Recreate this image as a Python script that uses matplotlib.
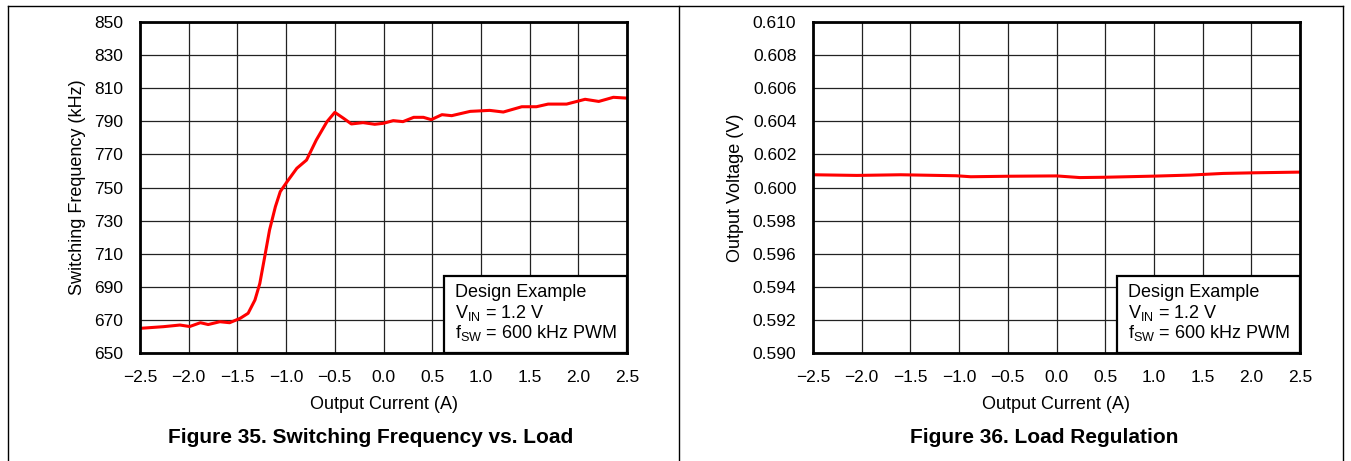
import matplotlib.pyplot as plt
from matplotlib.lines import Line2D
from matplotlib.patches import Rectangle

plt.rcParams['font.family'] = ['Liberation Sans', 'DejaVu Sans']
plt.rcParams['mathtext.fontset'] = 'custom'
plt.rcParams['mathtext.rm'] = 'Liberation Sans'

# --- data ---
freq_current = [-2.5, -2.26, -2.09, -1.99, -1.88, -1.80, -1.68, -1.58, -1.47, -1.39,
                -1.32, -1.27, -1.22, -1.17, -1.11, -1.06, -0.99, -0.89, -0.79, -0.69,
                -0.58, -0.50, -0.41, -0.33, -0.21, -0.09, 0.0, 0.10, 0.20, 0.31,
                0.41, 0.49, 0.60, 0.70, 0.89, 1.09, 1.23, 1.42, 1.57, 1.69,
                1.88, 2.07, 2.21, 2.36, 2.5]
freq_khz = [664.9, 665.9, 666.9, 666.0, 668.3, 667.2, 668.9, 668.3, 671.0, 674.0,
            682.0, 692.0, 708.0, 724.3, 738.4, 747.5, 753.5, 761.6, 766.6, 778.7,
            789.8, 795.4, 791.8, 788.4, 789.2, 788.2, 788.8, 790.4, 789.8, 792.4,
            792.4, 791.0, 794.0, 793.4, 796.0, 796.6, 795.6, 798.8, 798.8, 800.4,
            800.4, 803.3, 802.0, 804.5, 804.0]

vout_current = [-2.5, -2.05, -1.6, -1.03, -0.88, -0.5, 0.0, 0.24, 0.5, 1.02, 1.37, 1.71, 2.05, 2.5]
vout_v = [0.60077, 0.60073, 0.60077, 0.60071, 0.60065, 0.60068, 0.6007, 0.6006,
          0.60062, 0.60069, 0.60075, 0.60085, 0.60089, 0.60093]

x_ticks = [-2.5, -2.0, -1.5, -1.0, -0.5, 0.0, 0.5, 1.0, 1.5, 2.0, 2.5]
freq_ticks = [650, 670, 690, 710, 730, 750, 770, 790, 810, 830, 850]
vout_ticks = [0.590, 0.592, 0.594, 0.596, 0.598, 0.600, 0.602, 0.604, 0.606, 0.608, 0.610]

legend_lines = ["Design Example",
                r"V$_{\mathregular{IN}}$ = 1.2 V",
                r"f$_{\mathregular{SW}}$ = 600 kHz PWM"]

W, H = 1351, 461
fig = plt.figure(figsize=(W / 100, H / 100), dpi=100)

# outer frame and divider between the two figures
frame = [((8, 8), (6, 461)), ((1343, 1343), (6, 461)), ((8, 1343), (6, 6)), ((679, 679), (6, 461))]
for xs, ys in frame:
    fig.add_artist(Line2D([x / W for x in xs], [1 - y / H for y in ys], color='black', lw=1.0))


def setup(ax, yticks, ylabel, fmt, caption):
    ax.set_xlim(-2.5, 2.5)
    ax.set_ylim(yticks[0], yticks[-1])
    ax.set_xticks(x_ticks)
    ax.set_xticklabels([f"{t:.1f}".replace('-', '\u2212') for t in x_ticks])
    ax.set_yticks(yticks)
    ax.set_yticklabels([fmt.format(t) for t in yticks])
    ax.tick_params(length=0, labelsize=12.5, pad=12)
    ax.grid(True, color='#222222', lw=0.9)
    ax.set_axisbelow(True)
    for s in ax.spines.values():
        s.set_linewidth(2.0)
    ax.set_xlabel("Output Current (A)", fontsize=13, labelpad=8)
    ax.set_ylabel(ylabel, fontsize=13, labelpad=6)
    # legend-style box in the lower right corner
    ax.add_patch(Rectangle((1 - 0.376, 0), 0.376, 0.233, transform=ax.transAxes,
                           facecolor='white', edgecolor='black', lw=1.6, zorder=5))
    for i, line in enumerate(legend_lines):
        ax.text(1 - 0.353, 0.182 - i * 0.061, line, transform=ax.transAxes,
                fontsize=13, va='center', ha='left', zorder=6)
    ax.text(0.474, -0.254, caption, transform=ax.transAxes, fontsize=15,
            fontweight='bold', ha='center', va='center')


ax1 = fig.add_axes([140 / W, 1 - 353 / H, 487 / W, 331 / H])
ax1.plot(freq_current, freq_khz, color='#ff0000', lw=2.2)
setup(ax1, freq_ticks, "Switching Frequency (kHz)", "{:.0f}", "Figure 35. Switching Frequency vs. Load")

ax2 = fig.add_axes([813 / W, 1 - 353 / H, 487 / W, 331 / H])
ax2.plot(vout_current, vout_v, color='#ff0000', lw=2.2)
setup(ax2, vout_ticks, "Output Voltage (V)", "{:.3f}", "Figure 36. Load Regulation")

fig.savefig("out.png", dpi=100)
